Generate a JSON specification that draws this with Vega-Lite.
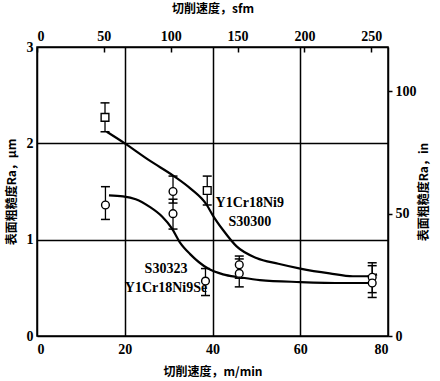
{
  "$schema": "https://vega.github.io/schema/vega-lite/v6.json",
  "width": 351,
  "height": 289,
  "autosize": "none",
  "padding": {"left": 37, "top": 47, "right": 52, "bottom": 45},
  "background": "white",
  "config": {
    "view": {"stroke": "black", "strokeWidth": 1.5},
    "axis": {
      "labelFont": "Liberation Serif",
      "labelFontSize": 14,
      "labelFontWeight": "bold",
      "labelColor": "black",
      "titleFont": "Noto Sans CJK SC",
      "titleFontSize": 12,
      "titleFontWeight": "bold",
      "titleColor": "black",
      "domain": false
    }
  },
  "datasets": {
    "pts": [
      {"x": 15.5, "y": 2.27, "lo": 2.12, "hi": 2.42, "s": "square"},
      {"x": 38.8, "y": 1.51, "lo": 1.36, "hi": 1.66, "s": "square"},
      {"x": 15.6, "y": 1.36, "lo": 1.21, "hi": 1.55, "s": "circle"},
      {"x": 31.0, "y": 1.50, "lo": 1.38, "hi": 1.66, "s": "circle"},
      {"x": 31.0, "y": 1.27, "lo": 1.11, "hi": 1.42, "s": "circle"},
      {"x": 38.4, "y": 0.57, "lo": 0.42, "hi": 0.70, "s": "circle"},
      {"x": 46.1, "y": 0.74, "lo": 0.60, "hi": 0.83, "s": "circle"},
      {"x": 46.1, "y": 0.65, "lo": 0.51, "hi": 0.80, "s": "circle"},
      {"x": 76.4, "y": 0.61, "lo": 0.45, "hi": 0.76, "s": "circle"},
      {"x": 76.4, "y": 0.55, "lo": 0.40, "hi": 0.73, "s": "circle"}
    ],
    "curves": [
      {"c": "A", "x": 15.9, "y": 2.12},
      {"c": "A", "x": 20, "y": 2.0},
      {"c": "A", "x": 25.7, "y": 1.82},
      {"c": "A", "x": 31.2, "y": 1.66},
      {"c": "A", "x": 35, "y": 1.53},
      {"c": "A", "x": 38.7, "y": 1.36},
      {"c": "A", "x": 40.1, "y": 1.25},
      {"c": "A", "x": 42.4, "y": 1.10},
      {"c": "A", "x": 45.5, "y": 0.93},
      {"c": "A", "x": 50, "y": 0.81},
      {"c": "A", "x": 55, "y": 0.75},
      {"c": "A", "x": 60, "y": 0.70},
      {"c": "A", "x": 66.7, "y": 0.65},
      {"c": "A", "x": 72, "y": 0.62},
      {"c": "A", "x": 75.2, "y": 0.62},
      {"c": "A", "x": 77.5, "y": 0.64},
      {"c": "B", "x": 16.4, "y": 1.46},
      {"c": "B", "x": 19.6, "y": 1.45},
      {"c": "B", "x": 22.5, "y": 1.42},
      {"c": "B", "x": 25.7, "y": 1.34},
      {"c": "B", "x": 28.5, "y": 1.24},
      {"c": "B", "x": 30.7, "y": 1.12},
      {"c": "B", "x": 32.6, "y": 0.97},
      {"c": "B", "x": 34.9, "y": 0.85},
      {"c": "B", "x": 39, "y": 0.70},
      {"c": "B", "x": 42.4, "y": 0.64},
      {"c": "B", "x": 46.2, "y": 0.61},
      {"c": "B", "x": 50.8, "y": 0.58},
      {"c": "B", "x": 60, "y": 0.56},
      {"c": "B", "x": 70, "y": 0.55},
      {"c": "B", "x": 76.4, "y": 0.55}
    ],
    "labels": [
      {"x": 48.5, "y": 1.38, "t": "Y1Cr18Ni9"},
      {"x": 48.5, "y": 1.18, "t": "S30300"},
      {"x": 29.4, "y": 0.70, "t": "S30323"},
      {"x": 29.4, "y": 0.50, "t": "Y1Cr18Ni9Se"}
    ]
  },
  "layer": [
    {
      "data": {"name": "curves"},
      "mark": {"type": "line", "interpolate": "monotone", "color": "black", "strokeWidth": 2.2},
      "encoding": {
        "x": {
          "field": "x", "type": "quantitative",
          "scale": {"domain": [0, 80], "nice": false},
          "axis": {
            "orient": "bottom", "values": [0, 20, 40, 60, 80],
            "grid": true, "gridColor": "black", "gridWidth": 1.5, "gridOpacity": 1,
            "ticks": false, "labelPadding": 6,
            "title": "切削速度，m/min", "titlePadding": 10
          }
        },
        "y": {
          "field": "y", "type": "quantitative",
          "scale": {"domain": [0, 3], "nice": false},
          "axis": {
            "orient": "left", "values": [0, 1, 2, 3],
            "grid": true, "gridColor": "black", "gridWidth": 1.5, "gridOpacity": 1,
            "ticks": false, "labelPadding": 4,
            "title": "表面粗糙度Ra，μm", "titlePadding": 8
          }
        },
        "detail": {"field": "c"}
      }
    },
    {
      "data": {"name": "pts"},
      "mark": {"type": "point", "opacity": 0},
      "encoding": {
        "x": {
          "field": "x", "type": "quantitative",
          "axis": {
            "orient": "top", "values": [0, 15.24, 30.48, 45.72, 60.96, 76.2],
            "labelExpr": "format(datum.value * 3.28084, '.0f')",
            "grid": false, "ticks": true, "tickSize": -5, "tickWidth": 1.5, "tickColor": "black",
            "labelPadding": 9, "zindex": 2,
            "title": "切削速度，sfm", "titlePadding": 14
          }
        },
        "y": {
          "field": "y", "type": "quantitative",
          "axis": {
            "orient": "right", "values": [0, 1.27, 2.54],
            "labelExpr": "format(datum.value / 0.0254, '.0f')",
            "grid": false, "ticks": true, "tickSize": 4, "tickWidth": 1.5, "tickColor": "black",
            "labelPadding": 3, "zindex": 2,
            "title": "表面粗糙度Ra，in", "titleAngle": 270, "titlePadding": 14
          }
        }
      }
    },
    {
      "data": {"name": "pts"},
      "mark": {"type": "rule", "color": "black", "strokeWidth": 1.3},
      "encoding": {
        "x": {"field": "x", "type": "quantitative", "axis": null},
        "y": {"field": "lo", "type": "quantitative", "axis": null},
        "y2": {"field": "hi"}
      }
    },
    {
      "data": {"name": "pts"},
      "mark": {"type": "tick", "orient": "horizontal", "size": 9, "thickness": 1.5, "color": "black", "opacity": 1},
      "encoding": {
        "x": {"field": "x", "type": "quantitative", "axis": null},
        "y": {"field": "lo", "type": "quantitative", "axis": null}
      }
    },
    {
      "data": {"name": "pts"},
      "mark": {"type": "tick", "orient": "horizontal", "size": 9, "thickness": 1.5, "color": "black", "opacity": 1},
      "encoding": {
        "x": {"field": "x", "type": "quantitative", "axis": null},
        "y": {"field": "hi", "type": "quantitative", "axis": null}
      }
    },
    {
      "data": {"name": "pts"},
      "mark": {"type": "point", "filled": false, "fill": "white", "fillOpacity": 1, "stroke": "black", "strokeWidth": 1.4, "opacity": 1, "size": 60},
      "encoding": {
        "x": {"field": "x", "type": "quantitative", "axis": null},
        "y": {"field": "y", "type": "quantitative", "axis": null},
        "shape": {"field": "s", "type": "nominal", "scale": {"domain": ["square", "circle"], "range": ["square", "circle"]}, "legend": null}
      }
    },
    {
      "data": {"name": "labels"},
      "mark": {"type": "text", "font": "Liberation Serif", "fontSize": 14, "fontWeight": "bold", "color": "black", "align": "center", "baseline": "middle"},
      "encoding": {
        "x": {"field": "x", "type": "quantitative", "axis": null},
        "y": {"field": "y", "type": "quantitative", "axis": null},
        "text": {"field": "t"}
      }
    }
  ],
  "resolve": {"axis": {"x": "independent", "y": "independent"}}
}
